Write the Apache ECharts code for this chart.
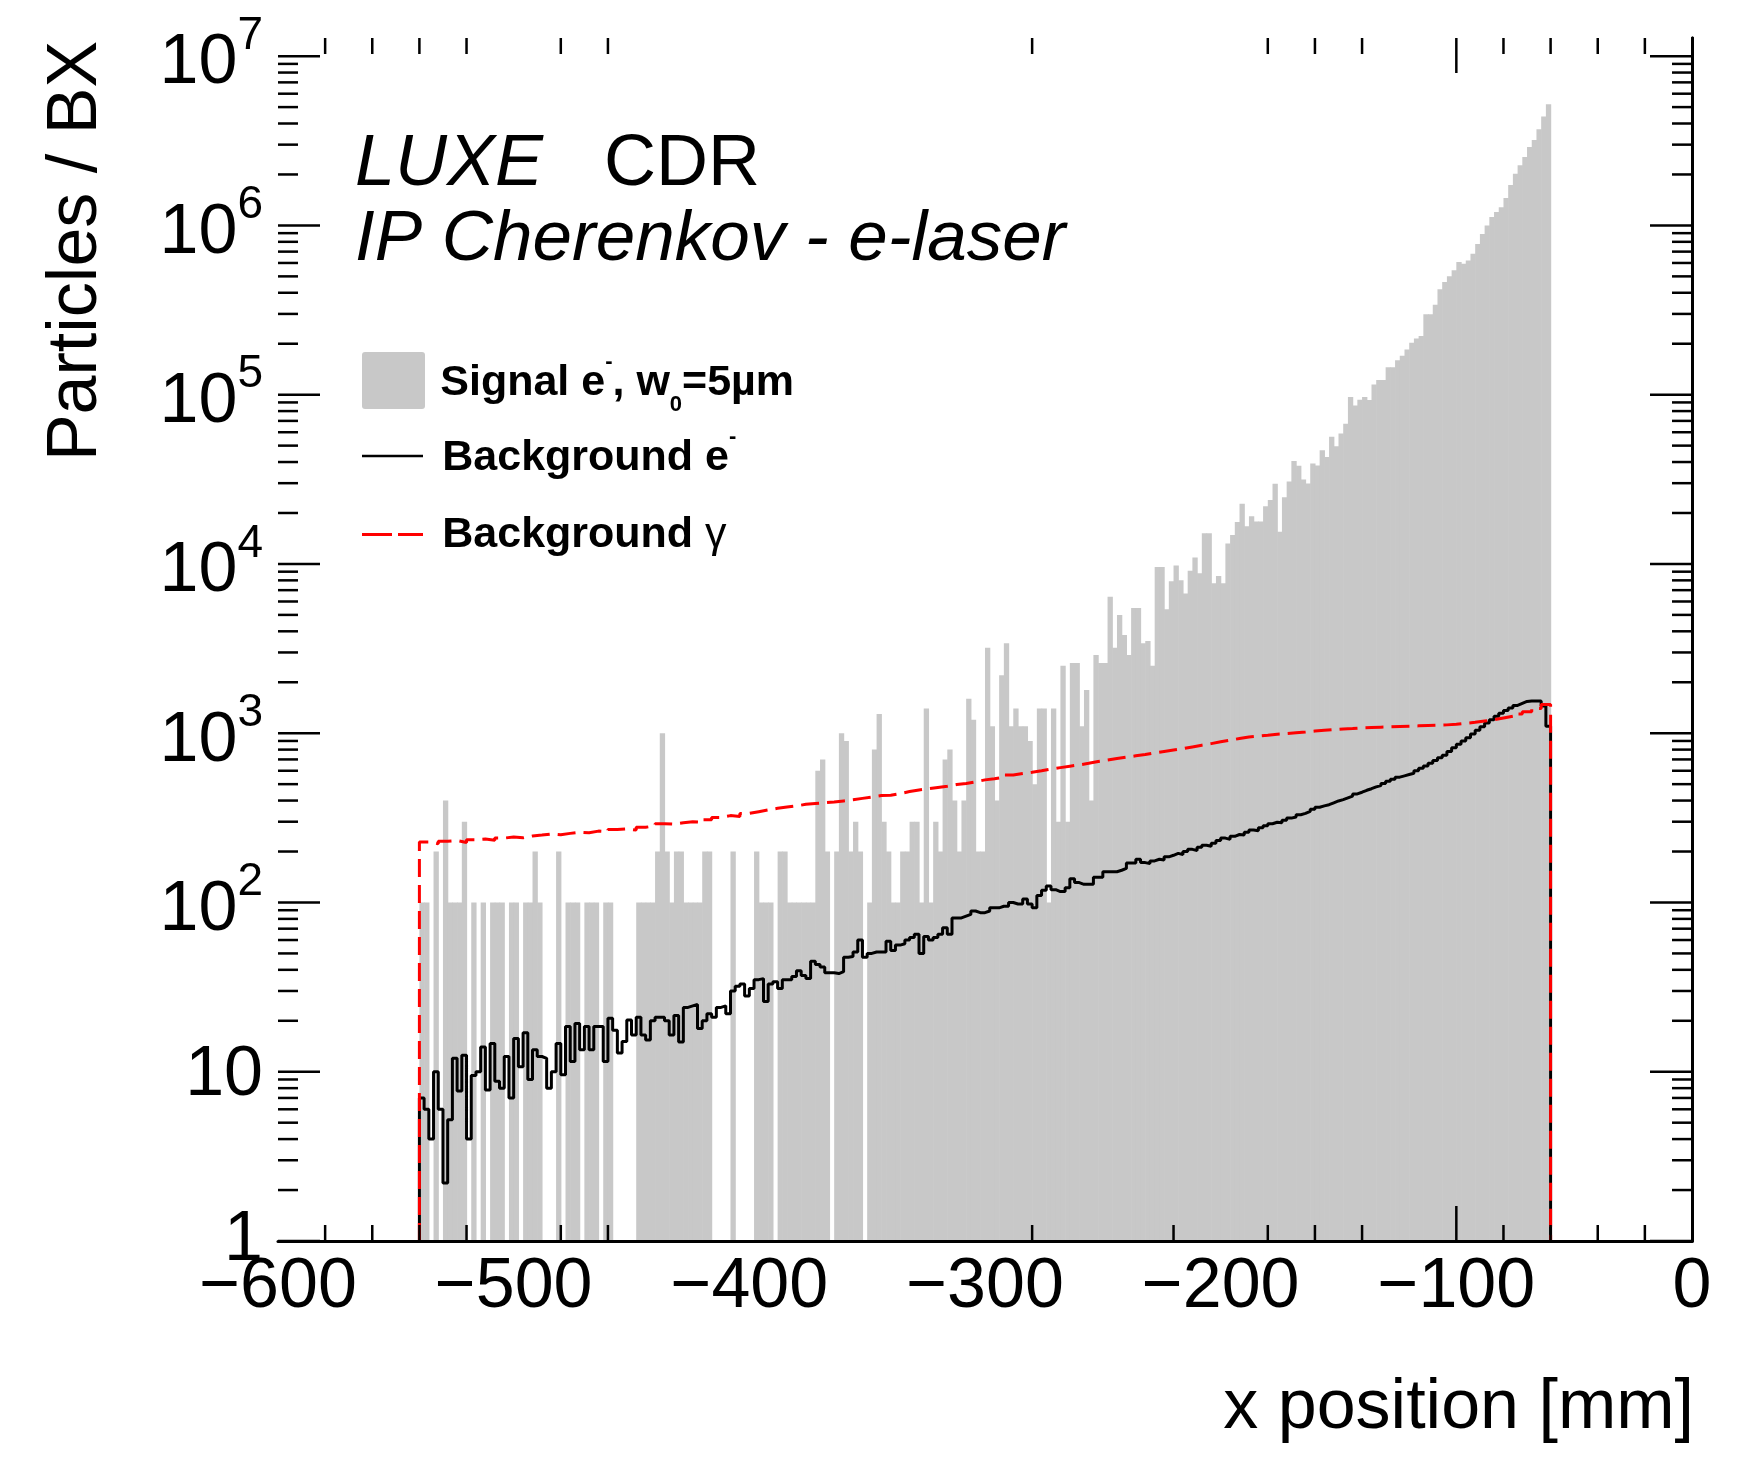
<!DOCTYPE html>
<html>
<head>
<meta charset="utf-8">
<title>LUXE CDR - IP Cherenkov - e-laser</title>
<script src="https://cdn.jsdelivr.net/npm/echarts@6/dist/echarts.min.js"></script>
<style>
html, body { margin: 0; padding: 0; background: #fff; }
#chart { width: 1742px; height: 1457px; }
</style>
</head>
<body>
<div id="chart"></div>
<script>
var FONT = "'Liberation Sans', Arial, Helvetica, sans-serif";

// histogram binning (mm)
var binStart = -540;
var binWidth = 2;
var gammaBinWidth = 4;
var yMax = 1.28e7;

// Signal e-, w0=5um  (2 mm bins from -540)
var signalE = [
  100,100,0,200,0,400,100,100,100,300,
  0,100,0,100,0,100,100,100,0,100,
  100,0,100,100,200,100,0,0,0,200,
  0,100,100,100,0,100,100,100,0,100,
  100,0,0,0,0,0,100,100,100,100,
  200,1000,200,100,200,200,100,100,100,100,
  200,200,0,0,0,0,200,0,0,0,
  0,200,100,100,100,0,200,200,100,100,
  100,100,100,100,600,700,200,0,200,1000,
  900,200,300,200,0,100,800,1300,300,200,
  100,100,200,200,300,300,100,1400,100,300,
  200,700,800,400,200,400,1600,1200,200,200,
  3200,1100,400,2200,3400,1100,1400,1100,1100,900,
  500,1400,1400,100,1400,300,2500,300,2600,2600,
  1100,1800,400,2900,2600,2600,6400,3200,5000,3800,
  2900,5500,5500,3400,3500,2500,9600,9600,5400,7900,
  9800,8000,6700,9100,10900,8800,15200,15200,7700,8500,
  7700,13200,14800,17700,22700,16700,19100,17800,17800,21900,
  23900,29800,15500,24800,30700,40500,38000,31500,29900,39200,
  38200,47000,42900,56500,49600,59000,67400,96900,86400,93300,
  97000,93000,115000,122000,122000,145000,145000,160000,170000,185000,
  203000,215000,222000,299000,299000,340000,420000,463000,500000,543000,
  608000,594000,620000,680000,777000,891000,1000000,1120000,1200000,1280000,
  1450000,1730000,2020000,2270000,2540000,2910000,3200000,3700000,4400000,5200000
];

// Background e-  (2 mm bins from -540)
var bkgE = [
  7,6,4,10,6,2.2,5.2,12,7.7,12.5,
  4,9.5,10,14,7.8,14.7,8.8,8,12.3,7,
  15.7,10.7,17,9,13.5,12.3,12,8,10,14.7,
  9.6,18.5,11.5,19.3,13.5,18.5,13.5,18.5,18.5,11.5,
  20.7,17.6,12.9,15.1,20.2,16.5,21,16.5,15.4,20,
  21,21,20,16.5,21.5,15,24,24.5,25,18,
  20,22,21,24,24.5,22,30,32,33,28,
  31,35,35.5,26,33,34,31,35,35,36.5,
  39.5,37,35.5,45,43,41.6,38.4,38.4,38,39,
  47.5,48,51,60,47.5,50,51,51,51,59,
  52,56,57,60,62,65,50,63,60,62,
  65,71,65,81,81,83,85,89,87,87,
  89,93,93,95,95,100,98,98,105,98,
  93,110,118,125,119,116,116,122,138,131,
  128,128,128,141,141,152,152,152,155,159,
  171,171,180,172,170,176,180,178,186,190,
  195,192,200,206,203,212,218,215,224,232,
  240,236,246,252,250,260,268,265,276,284,
  292,298,296,306,315,320,330,336,345,355,
  365,372,378,388,398,405,415,425,438,448,
  460,470,482,490,505,520,535,550,560,570,
  580,600,620,640,665,690,715,740,780,820,
  860,900,940,990,1040,1090,1150,1200,1260,1310,
  1360,1410,1460,1500,1540,1550,1550,1550,1450,1100
];

// Background gamma  (4 mm bins from -540)
var bkgGamma = [
  228,222,230,232,226,235,237,233,240,244,
  241,247,250,254,251,256,260,258,264,262,
  270,272,268,278,284,292,290,296,300,298,
  308,318,326,322,336,344,352,360,366,372,
  380,384,388,392,398,404,412,420,428,430,
  440,452,462,470,478,486,498,505,516,530,
  538,550,566,578,588,600,614,626,638,650,
  664,680,694,708,722,735,748,765,780,795,
  810,830,850,868,890,910,930,950,962,972,
  985,995,1005,1015,1030,1040,1050,1060,1065,1075,
  1080,1085,1090,1095,1100,1105,1110,1115,1120,1130,
  1145,1160,1180,1200,1230,1260,1300,1340,1400,1480
];

// frame tick marks as they appear on the plot (mm)
var xTicksBottom = [-580,-560,-540,-520,-480,-460,-280,-220,-180,-160,-140,-100,-80,-60,-40,-20];
var xTicksTop = [-580,-560,-540,-520,-480,-460,-280,-180,-160,-140,-100,-80,-60,-40,-20];
var xLongTicks = [-100];
var yDecades = [0,1,2,3,4,5,6,7];

function stepData(vals, start, width) {
  var pts = [[start, 1]];
  for (var i = 0; i < vals.length; i++) {
    pts.push([start + i * width, vals[i]]);
  }
  pts.push([start + vals.length * width, 1]);
  return pts;
}

var signalBars = [];
for (var i = 0; i < signalE.length; i++) {
  if (signalE[i] > 0) {
    signalBars.push([binStart + i * binWidth, binStart + (i + 1) * binWidth, signalE[i]]);
  }
}

var tickData = [];
yDecades.forEach(function (p) {
  tickData.push([-600, Math.pow(10, p), 0]);
  if (p < 7) {
    for (var m = 2; m <= 9; m++) tickData.push([-600, m * Math.pow(10, p), 1]);
  }
});
xTicksBottom.forEach(function (x) {
  tickData.push([x, 1, xLongTicks.indexOf(x) >= 0 ? 3 : 2]);
});
xTicksTop.forEach(function (x) {
  tickData.push([x, yMax, xLongTicks.indexOf(x) >= 0 ? 5 : 4]);
});

function renderBar(params, api) {
  var v = api.value(2);
  var a = api.coord([api.value(0), v]);
  var b = api.coord([api.value(1), 1]);
  return {
    type: 'rect',
    shape: { x: a[0], y: a[1], width: b[0] - a[0] + 0.6, height: b[1] - a[1] },
    style: { fill: '#c8c8c8' }
  };
}

function renderTick(params, api) {
  var kind = api.value(2);
  var c = api.coord([api.value(0), api.value(1)]);
  var style = { stroke: '#000', lineWidth: 2.5 };
  if (kind <= 1) {
    var len = kind === 0 ? 42 : 20;
    var r = api.coord([0, api.value(1)]);
    return {
      type: 'group',
      children: [
        { type: 'line', shape: { x1: c[0], y1: c[1], x2: c[0] + len, y2: c[1] }, style: style },
        { type: 'line', shape: { x1: r[0] - len, y1: r[1], x2: r[0], y2: r[1] }, style: style }
      ]
    };
  }
  var l2 = (kind === 3 || kind === 5) ? 35 : 16;
  var dir = kind <= 3 ? -1 : 1;
  return { type: 'line', shape: { x1: c[0], y1: c[1], x2: c[0], y2: c[1] + dir * l2 }, style: style };
}

function textEl(x, y, text, font, align, extra, rotation) {
  var el = {
    type: 'text', x: x, y: y, rotation: rotation || 0,
    style: {
      text: text, font: font, fill: '#000',
      align: align, textAlign: align,
      verticalAlign: 'middle', textVerticalAlign: 'middle'
    }
  };
  if (extra) for (var k in extra) el.style[k] = extra[k];
  return el;
}

var legendRich = {
  sp: { fontSize: 1, lineHeight: 65, fontFamily: FONT },
  t: { fontSize: 43, fontWeight: 'bold', lineHeight: 43, fontFamily: FONT, color: '#000' },
  s: { fontSize: 22, fontWeight: 'bold', lineHeight: 30, verticalAlign: 'top', fontFamily: FONT, color: '#000' },
  sub: { fontSize: 22, fontWeight: 'bold', lineHeight: 12, verticalAlign: 'bottom', fontFamily: FONT, color: '#000' },
  g: { fontSize: 43, fontWeight: 'normal', lineHeight: 43, fontFamily: FONT, color: '#000' }
};

var chart = echarts.init(document.getElementById('chart'));
chart.setOption({
  animation: false,
  backgroundColor: '#fff',
  grid: { left: 278, right: 50, top: 38, bottom: 216, containLabel: false },
  xAxis: {
    type: 'value', min: -600, max: 0, interval: 100, z: 10,
    axisLine: { show: true, onZero: false, lineStyle: { color: '#000', width: 3 } },
    axisTick: { show: false },
    splitLine: { show: false },
    axisLabel: {
      fontSize: 70, fontFamily: FONT, color: '#000', margin: 12,
      showMinLabel: true, showMaxLabel: true,
      formatter: function (v) { return v < 0 ? '\u2212' + (-v) : String(v); }
    }
  },
  yAxis: [{
    type: 'log', logBase: 10, min: 1, max: yMax, splitNumber: 7, z: 10,
    axisLine: { show: true, lineStyle: { color: '#000', width: 3 } },
    axisTick: { show: false },
    splitLine: { show: false },
    axisLabel: {
      margin: 15, color: '#000', fontFamily: FONT,
      formatter: function (v) {
        var e = Math.round(Math.log(v) / Math.LN10);
        if (Math.abs(Math.pow(10, e) - v) > 1e-6 * v) return '';
        if (e === 0) return '{b|1}';
        if (e === 1) return '{z1| }{b|10}';
        return '{z2| }{b|10}{s|' + e + '}';
      },
      rich: {
        b: { fontSize: 70, lineHeight: 70, verticalAlign: 'bottom', fontFamily: FONT, color: '#000' },
        s: { fontSize: 46, lineHeight: 52, verticalAlign: 'top', fontFamily: FONT, color: '#000' },
        z1: { fontSize: 2, lineHeight: 78 },
        z2: { fontSize: 2, lineHeight: 86 }
      }
    }
  }, {
    type: 'log', logBase: 10, min: 1, max: yMax, position: 'right', z: 10,
    axisLine: { show: true, lineStyle: { color: '#000', width: 3 } },
    axisTick: { show: false },
    axisLabel: { show: false },
    splitLine: { show: false }
  }],
  series: [{
    name: 'Signal e-, w0=5um',
    type: 'custom',
    renderItem: renderBar,
    data: signalBars,
    encode: { x: [0, 1], y: 2 },
    z: 1,
    silent: true
  }, {
    name: 'Background e-',
    type: 'line',
    step: 'end',
    data: stepData(bkgE, binStart, binWidth),
    showSymbol: false,
    lineStyle: { color: '#000', width: 3 },
    z: 3,
    silent: true
  }, {
    name: 'Background gamma',
    type: 'line',
    step: 'end',
    data: stepData(bkgGamma, binStart, gammaBinWidth),
    showSymbol: false,
    lineStyle: { color: '#ff0000', width: 3, type: [18, 8] },
    z: 4,
    silent: true
  }, {
    name: 'ticks',
    type: 'custom',
    renderItem: renderTick,
    data: tickData,
    encode: { x: 0, y: 1 },
    clip: false,
    z: 12,
    silent: true
  }],
  graphic: [
    textEl(77, 251, 'Particles / BX', '70px ' + FONT, 'center', null, Math.PI / 2),
    textEl(1694, 1409, 'x position [mm]', '70px ' + FONT, 'right', null),
    textEl(355, 165, 'LUXE', 'italic 72px ' + FONT, 'left', null),
    textEl(604, 165, 'CDR', '72px ' + FONT, 'left', null),
    textEl(355, 240, 'IP Cherenkov - e-laser', 'italic 71px ' + FONT, 'left', null),
    {
      type: 'rect', shape: { x: 362, y: 352, width: 63, height: 57, r: 3 },
      style: { fill: '#c8c8c8' }
    },
    {
      type: 'line', shape: { x1: 362, y1: 456, x2: 423, y2: 456 },
      style: { stroke: '#000', lineWidth: 2.5 }
    },
    {
      type: 'line', shape: { x1: 362, y1: 534.5, x2: 423, y2: 534.5 },
      style: { stroke: '#ff0000', lineWidth: 3, lineDash: [30, 6] }
    },
    textEl(440, 383.4, '{sp| }{t|Signal e}{s|-}{t|, w}{sub|0}{t|=5\u00b5m}', '43px ' + FONT, 'left', { rich: legendRich }),
    textEl(442, 458.4, '{sp| }{t|Background e}{s|-}', '43px ' + FONT, 'left', { rich: legendRich }),
    textEl(442, 535.1, '{sp| }{t|Background }{g|\u03b3}', '43px ' + FONT, 'left', { rich: legendRich })
  ]
});
</script>
</body>
</html>
